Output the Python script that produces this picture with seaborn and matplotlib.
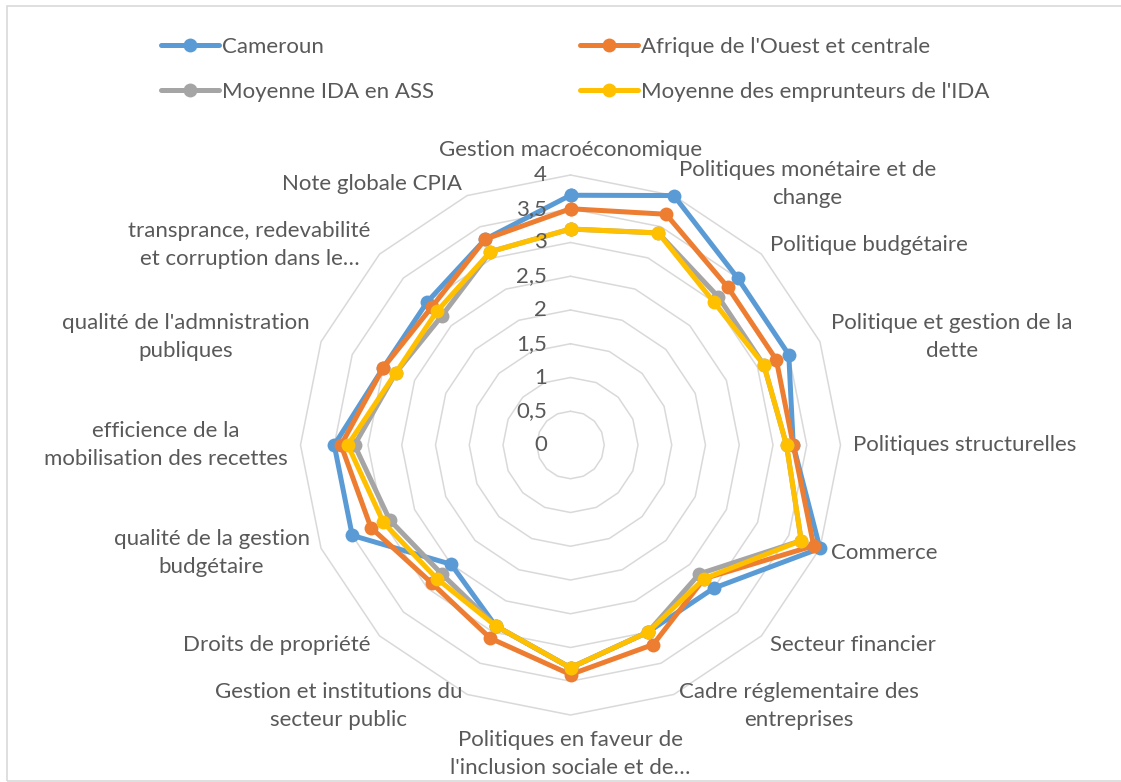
import numpy as np
import pandas as pd
import matplotlib.pyplot as plt
import seaborn as sns
from matplotlib.lines import Line2D
from matplotlib.patches import Rectangle

# Categories (clockwise from the top) and series values
categories = [
    "Gestion macroéconomique",
    "Politiques monétaire et de\nchange",
    "Politique budgétaire",
    "Politique et gestion de la\ndette",
    "Politiques structurelles",
    "Commerce",
    "Secteur financier",
    "Cadre réglementaire des\nentreprises",
    "Politiques en faveur de\nl'inclusion sociale et de…",
    "Gestion et institutions du\nsecteur public",
    "Droits de propriété",
    "qualité de la gestion\nbudgétaire",
    "efficience de la\nmobilisation des recettes",
    "qualité de l'admnistration\npubliques",
    "transprance, redevabilité\net corruption dans le…",
    "Note globale CPIA",
]
cameroun = [3.7, 4.0, 3.5, 3.5, 3.3, 4.0, 3.0, 3.0, 3.3, 2.9, 2.5, 3.5, 3.5, 3.0, 3.0, 3.3]
afrique_oc = [3.5, 3.7, 3.3, 3.3, 3.3, 3.9, 2.8, 3.2, 3.4, 3.1, 2.9, 3.2, 3.4, 3.0, 2.9, 3.3]
ida_ass = [3.2, 3.4, 3.1, 3.1, 3.2, 3.7, 2.7, 3.0, 3.3, 2.9, 2.7, 2.9, 3.2, 2.8, 2.7, 3.1]
ida_emprunteurs = [3.2, 3.4, 3.0, 3.1, 3.2, 3.7, 2.8, 3.0, 3.3, 2.9, 2.8, 3.0, 3.3, 2.8, 2.8, 3.1]

series_names = ["Cameroun", "Afrique de l'Ouest et centrale",
                "Moyenne IDA en ASS", "Moyenne des emprunteurs de l'IDA"]
colors = ["#5B9BD5", "#ED7D31", "#A5A5A5", "#FFC000"]
r_ticks = [0, 0.5, 1, 1.5, 2, 2.5, 3, 3.5, 4]
r_tick_labels = ["0", "0,5", "1", "1,5", "2", "2,5", "3", "3,5", "4"]

sns.set_theme(style="white")
plt.rcParams['font.family'] = ['Lato', 'DejaVu Sans']
text_color = "#595959"
fs = 16

n = len(categories)
angles = np.arange(n) * 2 * np.pi / n
angles_closed = np.append(angles, 2 * np.pi)

# long-form table, closing each loop on the first point
rows = []
for name, vals in zip(series_names, [cameroun, afrique_oc, ida_ass, ida_emprunteurs]):
    for a, v in zip(angles_closed, vals + vals[:1]):
        rows.append({"serie": name, "angle": a, "valeur": v})
df = pd.DataFrame(rows)

fig = plt.figure(figsize=(11.21, 7.82), dpi=100)
ax = fig.add_axes([300.5 / 1121, 67 / 782, 540 / 1121, 540 / 782], projection="polar")
ax.set_theta_zero_location("N")
ax.set_theta_direction(-1)
ax.set_ylim(0, 4)
ax.grid(False)
ax.set_xticks([])
ax.set_yticks([])
ax.spines["polar"].set_visible(False)
ax.patch.set_visible(False)

# polygon grid
for lvl in r_ticks[1:]:
    ax.plot(angles_closed, [lvl] * (n + 1), color="#D9D9D9", lw=1.1, zorder=0, clip_on=False)

sns.lineplot(data=df, x="angle", y="valeur", hue="serie", hue_order=series_names,
             palette=colors, sort=False, estimator=None, marker="o", markersize=10,
             markeredgewidth=0, linewidth=3.6, legend=False, ax=ax, clip_on=False)
ax.set_xlabel("")
ax.set_ylabel("")

# radial value labels
for v, lab in zip(r_ticks, r_tick_labels):
    ax.annotate(lab, (0, v), xytext=(-17, 0), textcoords="offset points",
                ha="right", va="center", fontsize=fs, color=text_color)

# category labels
for a, lab in zip(angles, categories):
    s, c = np.sin(a), np.cos(a)
    off = 9
    if abs(s) < 1e-6:
        ha = "center"
        va = "bottom" if c > 0 else "top"
        off = 11
    else:
        ha = "left" if s > 0 else "right"
        va = "center"
    ax.annotate(lab, (a, 4), xytext=(off * s, off * c), textcoords="offset points",
                ha=ha, va=va, fontsize=fs, color=text_color,
                multialignment="center", linespacing=1.5, annotation_clip=False)

# legend filled column by column: put entries so rows read like the original
order = [0, 2, 1, 3]
handles = [Line2D([], [], color=colors[i], lw=3.6, marker="o", markersize=10, markeredgewidth=0)
           for i in order]
fig.legend(handles, [series_names[i] for i in order], ncol=2, loc="upper left",
           bbox_to_anchor=(150 / 1121, 1 - 26 / 782), frameon=False, fontsize=fs,
           handlelength=2.6, handletextpad=0.15, columnspacing=6.55, labelspacing=1.12,
           borderpad=0, labelcolor=text_color)

fig.patches.append(Rectangle((7 / 1121, 1 / 782), 1.0, 775 / 782, transform=fig.transFigure,
                             fill=False, edgecolor="#D9D9D9", lw=1.2))

fig.savefig("out.png", dpi=100)
